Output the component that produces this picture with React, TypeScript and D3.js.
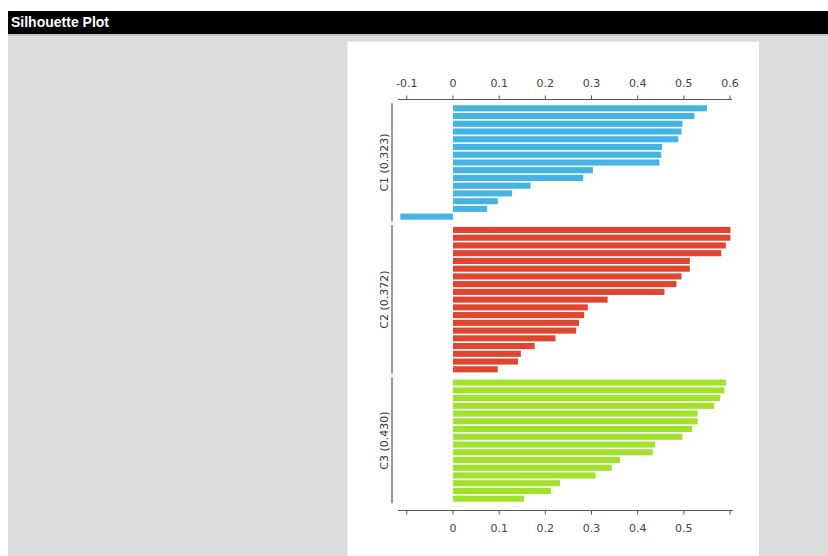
import React from "react";
import * as d3 from "d3";

const clusterNames = ["C1", "C2", "C3"];
const clusterColors = ["#45b4e5", "#e0452f", "#a2e22d"];
const c1Values = [0.55, 0.523, 0.497, 0.495, 0.488, 0.453, 0.451, 0.447, 0.303, 0.282, 0.168, 0.128, 0.097, 0.074, -0.114];
const c2Values = [0.601, 0.601, 0.591, 0.581, 0.513, 0.513, 0.495, 0.484, 0.458, 0.335, 0.292, 0.284, 0.273, 0.267, 0.222, 0.177, 0.147, 0.141, 0.097];
const c3Values = [0.591, 0.588, 0.579, 0.566, 0.53, 0.53, 0.518, 0.497, 0.438, 0.433, 0.362, 0.344, 0.309, 0.232, 0.212, 0.154];
const topTicks = [-0.1, 0, 0.1, 0.2, 0.3, 0.4, 0.5, 0.6];
const bottomTicks = [-0.1, 0, 0.1, 0.2, 0.3, 0.4, 0.5, 0.6];
const bottomLabelTicks = [0, 0.1, 0.2, 0.3, 0.4, 0.5];
const title = "Silhouette Plot";

const W = 828;
const H = 556;
const FONT = "'DejaVu Sans', Verdana, sans-serif";

export default function App() {
  const clusters = [c1Values, c2Values, c3Values];
  const gap = 0.72;
  const total = clusters.reduce((s, c) => s + c.length, 0);
  const x = d3.scaleLinear().domain([-0.1, 0.6]).range([406.8, 730]);
  const y = d3.scaleLinear().domain([0, total - 1 + 2 * gap]).range([108.3, 498.7]);
  const barH = 6.1;

  const bars: { v: number; cy: number; k: number }[] = [];
  const groups: { k: number; top: number; bottom: number; mean: number }[] = [];
  let idx = 0;
  clusters.forEach((vals, k) => {
    const start = idx;
    vals.forEach((v) => {
      bars.push({ v, cy: y(idx + k * gap), k });
      idx++;
    });
    groups.push({
      k,
      top: y(start + k * gap) - barH / 2,
      bottom: y(idx - 1 + k * gap) + barH / 2,
      mean: d3.mean(vals) as number,
    });
  });

  const topY = 99.5;
  const botY = 510.5;
  const axisColor = "#555";
  const labelColor = "#444";

  return (
    <svg
      width={W}
      height={H}
      style={{ position: "absolute", left: 0, top: 0, display: "block" }}
    >
      <rect x={0} y={0} width={W} height={H} fill="#ffffff" />
      <rect x={8} y={11} width={W - 8} height={23} fill="#000000" />
      <text
        x={11}
        y={27.3}
        fill="#ffffff"
        fontFamily="'Liberation Sans', Arial, sans-serif"
        fontWeight="bold"
        fontSize={14}
      >
        {title}
      </text>
      <rect x={8} y={34} width={W - 8} height={H - 34} fill="#dcdcdc" />
      <rect x={8} y={34} width={W - 8} height={2} fill="#c4c4c4" />
      <rect x={347.5} y={41.7} width={411.5} height={H - 41.7} fill="#ffffff" />

      {/* top axis */}
      <line x1={398} x2={732} y1={topY} y2={topY} stroke={axisColor} strokeWidth={1.2} />
      {topTicks.map((t) => (
        <g key={"tt" + t}>
          <line x1={x(t)} x2={x(t)} y1={topY} y2={topY - 4} stroke={axisColor} strokeWidth={1} />
          <text
            x={x(t)}
            y={87}
            textAnchor="middle"
            fontFamily={FONT}
            fontSize={11}
            fill={labelColor}
          >
            {String(t)}
          </text>
        </g>
      ))}

      {/* bottom axis */}
      <line x1={398} x2={733} y1={botY} y2={botY} stroke={axisColor} strokeWidth={1.2} />
      {bottomTicks.map((t) => (
        <line key={"bt" + t} x1={x(t)} x2={x(t)} y1={botY} y2={botY + 4} stroke={axisColor} strokeWidth={1} />
      ))}
      {bottomLabelTicks.map((t) => (
        <text
          key={"bl" + t}
          x={x(t)}
          y={531.5}
          textAnchor="middle"
          fontFamily={FONT}
          fontSize={11}
          fill={labelColor}
        >
          {String(t)}
        </text>
      ))}

      {/* bars */}
      {bars.map((b, i) => (
        <rect
          key={"b" + i}
          x={Math.min(x(0), x(b.v))}
          y={b.cy - barH / 2}
          width={Math.abs(x(b.v) - x(0))}
          height={barH}
          fill={clusterColors[b.k]}
        />
      ))}

      {/* cluster brackets and labels */}
      {groups.map((g) => (
        <g key={"g" + g.k}>
          <line
            x1={392}
            x2={392}
            y1={g.top - 2}
            y2={g.bottom + 1.5}
            stroke={axisColor}
            strokeWidth={1.2}
          />
          <text
            transform={`translate(388,${(g.top + g.bottom) / 2}) rotate(-90)`}
            textAnchor="middle"
            fontFamily={FONT}
            fontSize={11}
            fill="#333"
          >
            {`${clusterNames[g.k]} (${d3.format(".3f")(g.mean)})`}
          </text>
        </g>
      ))}
    </svg>
  );
}
